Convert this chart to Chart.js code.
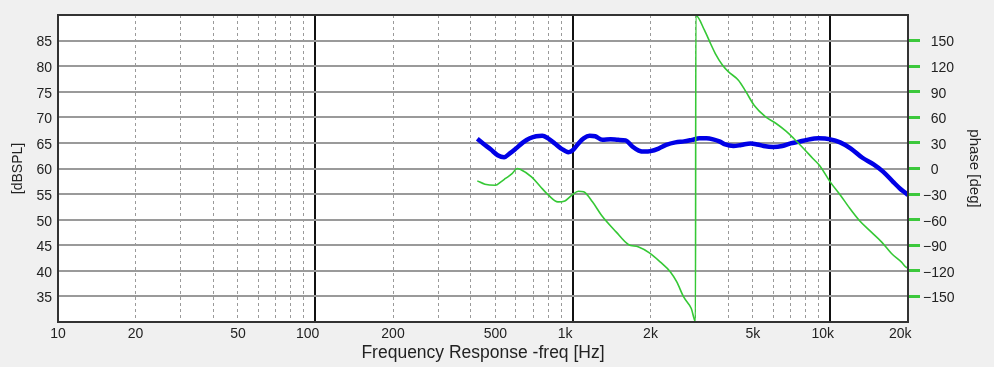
<!DOCTYPE html>
<html><head><meta charset="utf-8">
<script src="https://cdn.jsdelivr.net/npm/chart.js@4"></script>
<style>html,body{margin:0;padding:0;background:#f0f0f0;}canvas{display:block}</style>
</head><body>
<canvas id="c" width="994" height="367"></canvas>
<script>
// ---- data ----
const splFreq = [425,450,480,510,540,570,600,640,680,720,760,800,850,900,960,1000,1050,1100,1160,1220,1300,1400,1500,1600,1700,1800,1900,2000,2150,2300,2500,2700,2900,3100,3300,3500,3700,3900,4200,4500,4900,5200,5500,6000,6500,7000,7500,8100,9000,10000,10900,12000,13300,14700,16000,17500,18600,19800,20000];
const splDb = [65.8,64.8,63.7,62.6,62.2,63.0,63.9,65.1,65.9,66.3,66.4,65.9,64.9,63.9,63.2,63.6,64.9,65.9,66.4,66.3,65.6,65.7,65.6,65.5,64.3,63.5,63.3,63.4,63.9,64.6,65.1,65.3,65.6,65.9,65.9,65.7,65.3,64.7,64.4,64.6,64.9,64.7,64.4,64.2,64.4,64.9,65.2,65.6,65.9,65.7,65.1,63.9,62.1,60.8,59.4,57.4,56.1,55.0,54.8];
const phaseFreq = [425,455,500,525,547,580,607,626,690,745,803,874,930,990,1050,1100,1190,1290,1470,1640,1790,1980,2180,2390,2530,2690,2880,2990,3000,3240,3420,3570,3810,4020,4390,4700,5050,5600,6150,6700,7200,7860,8540,9100,9970,10930,11770,12920,14380,15780,17260,18830,19600,20000];
const phaseDeg = [-14.5,-18.4,-19.6,-15.6,-11.7,-6,0,-1.2,-9.8,-20.8,-31.3,-39.1,-38,-31.3,-26.6,-27.4,-39.1,-54.8,-74.3,-89.1,-91.9,-99,-109.5,-121.3,-133,-150.6,-164.2,-179.5,179.5,162.2,146.6,134.8,121.1,113.3,103.5,89.8,74.2,60.5,52.8,44.1,35.2,23.5,11.7,3,-15.7,-31.3,-45,-60.6,-74.3,-86,-99.7,-109.5,-115.4,-117];

// ---- ticks ----
const xMajorTicks = [10,20,50,100,200,500,1000,2000,5000,10000,20000];
const xMajorLabels = ['10','20','50','100','200','500','1k','2k','5k','10k','20k'];
const xDecadeLines = [100,1000,10000];
const xMinorTicks = [20,30,40,50,60,70,80,90,200,300,400,500,600,700,800,900,2000,3000,4000,5000,6000,7000,8000,9000];
const dbTicks = [35,40,45,50,55,60,65,70,75,80,85];
const phaseTicks = [-150,-120,-90,-60,-30,0,30,60,90,120,150];

const F = "'Liberation Sans', Arial, sans-serif";
const shiftLeft = [100,1000,10000,20000];

const frame = {
  id: 'frame',
  beforeDraw(c) {
    const {ctx, chartArea: a} = c;
    ctx.save();
    ctx.fillStyle = '#f0f0f0'; ctx.fillRect(0, 0, c.width, c.height);
    ctx.fillStyle = '#ffffff'; ctx.fillRect(a.left, a.top, a.right - a.left, a.bottom - a.top);
    ctx.restore();
  },
  afterDraw(c) {
    const {ctx, chartArea: a} = c;
    ctx.save();
    ctx.strokeStyle = '#333'; ctx.lineWidth = 2;
    ctx.strokeRect(a.left, a.top, a.right - a.left, a.bottom - a.top);
    ctx.restore();
  }
};

new Chart(document.getElementById('c'), {
  type: 'line',
  data: {
    datasets: [
      { label: 'phase', data: phaseFreq.map((f, i) => ({x: f, y: phaseDeg[i]})), xAxisID: 'x', yAxisID: 'y1',
        borderColor: '#35c835', borderWidth: 1.6, pointRadius: 0, cubicInterpolationMode: 'monotone', order: 0 },
      { label: 'SPL', data: splFreq.map((f, i) => ({x: f, y: splDb[i]})), xAxisID: 'x', yAxisID: 'y',
        borderColor: '#0000e6', borderWidth: 4.5, pointRadius: 0, cubicInterpolationMode: 'monotone', order: 1 }
    ]
  },
  plugins: [frame],
  options: {
    responsive: false, animation: false, devicePixelRatio: 1,
    layout: {padding: {top: 15, left: 0, right: 0, bottom: 0}},
    plugins: {legend: {display: false}, tooltip: {enabled: false}},
    scales: {
      x: {
        type: 'logarithmic', position: 'bottom', min: 10, max: 20000,
        afterBuildTicks: s => { s.ticks = xMajorTicks.map(v => ({value: v})); },
        afterFit: s => { s.height = 45; },
        ticks: {
          autoSkip: false, maxRotation: 0, minRotation: 0, padding: 4, color: '#222',
          font: {family: F, size: 14},
          callback: (v) => {
            const i = xMajorTicks.indexOf(v);
            if (i < 0) return '';
            return xMajorLabels[i] + (shiftLeft.includes(v) ? '\u2007\u2007' : '');
          }
        },
        grid: {drawTicks: false, lineWidth: 2,
          color: ctx => (ctx.tick && xDecadeLines.includes(ctx.tick.value)) ? '#111' : 'rgba(0,0,0,0)'},
        border: {display: false},
        title: {display: true, text: 'Frequency Response -freq [Hz]', color: '#222',
          font: {family: F, size: 17.5}, padding: {top: 0, bottom: 3}}
      },
      xm: {
        type: 'logarithmic', position: 'bottom', min: 10, max: 20000,
        afterBuildTicks: s => { s.ticks = xMinorTicks.map(v => ({value: v})); },
        afterFit: s => { s.height = 0; },
        ticks: {display: false},
        grid: {drawTicks: false, color: '#9a9a9a', lineWidth: 1},
        border: {display: false, dash: [3, 3]}
      },
      y: {
        type: 'linear', position: 'left', min: 30, max: 90,
        afterBuildTicks: s => { s.ticks = dbTicks.map(v => ({value: v})); },
        afterFit: s => { s.width = 58; },
        ticks: {padding: 6, labelOffset: 2, color: '#222', font: {family: F, size: 14}},
        grid: {drawTicks: false, color: '#9a9a9a', lineWidth: 2},
        border: {display: false},
        title: {display: true, text: '[dBSPL]', color: '#222', font: {family: F, size: 14}, padding: {top: 10, bottom: 0}}
      },
      y1: {
        type: 'linear', position: 'right', min: -180, max: 180,
        afterBuildTicks: s => { s.ticks = phaseTicks.map(v => ({value: v})); },
        afterFit: s => { s.width = 86; },
        ticks: {padding: 3, labelOffset: 2, color: '#222', font: {family: F, size: 14},
          callback: v => v < 0 ? '\u2212' + Math.abs(v) : '\u2007' + v},
        grid: {drawOnChartArea: false, drawTicks: true, tickLength: 12, tickColor: '#3cc83c', tickWidth: 3},
        border: {display: false},
        title: {display: true, text: 'phase [deg]', color: '#222', font: {family: F, size: 15}, padding: {top: 11, bottom: 0}}
      }
    }
  }
});
</script>
</body></html>
